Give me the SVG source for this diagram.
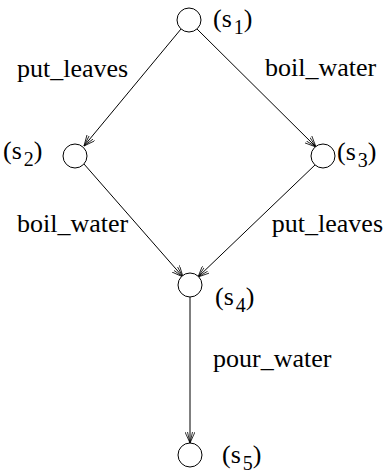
<svg xmlns="http://www.w3.org/2000/svg" width="386" height="472" viewBox="0 0 386 472">
<defs>
<marker id="arr" markerWidth="12" markerHeight="10" refX="11" refY="5" orient="auto" markerUnits="userSpaceOnUse">
<path d="M0,0 L11,5 L0,10 M0,2.5 L11,5 L0,7.5" fill="none" stroke="#000" stroke-width="0.8"/>
</marker>
<style>
.n{fill:#fff;stroke:#000;stroke-width:1}
.e{stroke:#000;stroke-width:1;fill:none;marker-end:url(#arr)}
text{font-family:"Liberation Serif","Times New Roman",serif;fill:#000}
.lbl{font-size:26px}
.st{font-size:26px}
.sub{font-size:20px}
</style>
</defs>
<rect width="386" height="472" fill="#fff"/>
<g id="edges">
<line class="e" x1="181" y1="29" x2="84" y2="146"/>
<line class="e" x1="197" y1="29" x2="316" y2="147"/>
<line class="e" x1="84" y1="164" x2="183" y2="277"/>
<line class="e" x1="316" y1="164" x2="198" y2="277"/>
<line class="e" x1="190" y1="297" x2="190" y2="443"/>
<text class="lbl" x="17" y="77">put_leaves</text>
<text class="lbl" x="265" y="76">boil_water</text>
<text class="lbl" x="17" y="232">boil_water</text>
<text class="lbl" x="383" y="232" text-anchor="end">put_leaves</text>
<text class="lbl" x="213" y="367">pour_water</text>
</g>
<g id="s1"><circle class="n" cx="189" cy="20" r="12"/><text class="st" x="213" y="27">(s<tspan class="sub" dx="2" dy="7">1</tspan><tspan dy="-7">)</tspan></text></g>
<g id="s2"><circle class="n" cx="75" cy="156" r="12"/><text class="st" x="3" y="159">(s<tspan class="sub" dx="2" dy="7">2</tspan><tspan dy="-7">)</tspan></text></g>
<g id="s3"><circle class="n" cx="323" cy="156" r="12"/><text class="st" x="337" y="160">(s<tspan class="sub" dx="2" dy="7">3</tspan><tspan dy="-7">)</tspan></text></g>
<g id="s4"><circle class="n" cx="190" cy="285" r="12"/><text class="st" x="215" y="305">(s<tspan class="sub" dx="2" dy="7">4</tspan><tspan dy="-7">)</tspan></text></g>
<g id="s5"><circle class="n" cx="190" cy="455" r="12"/><text class="st" x="222" y="463">(s<tspan class="sub" dx="2" dy="7">5</tspan><tspan dy="-7">)</tspan></text></g>
</svg>
